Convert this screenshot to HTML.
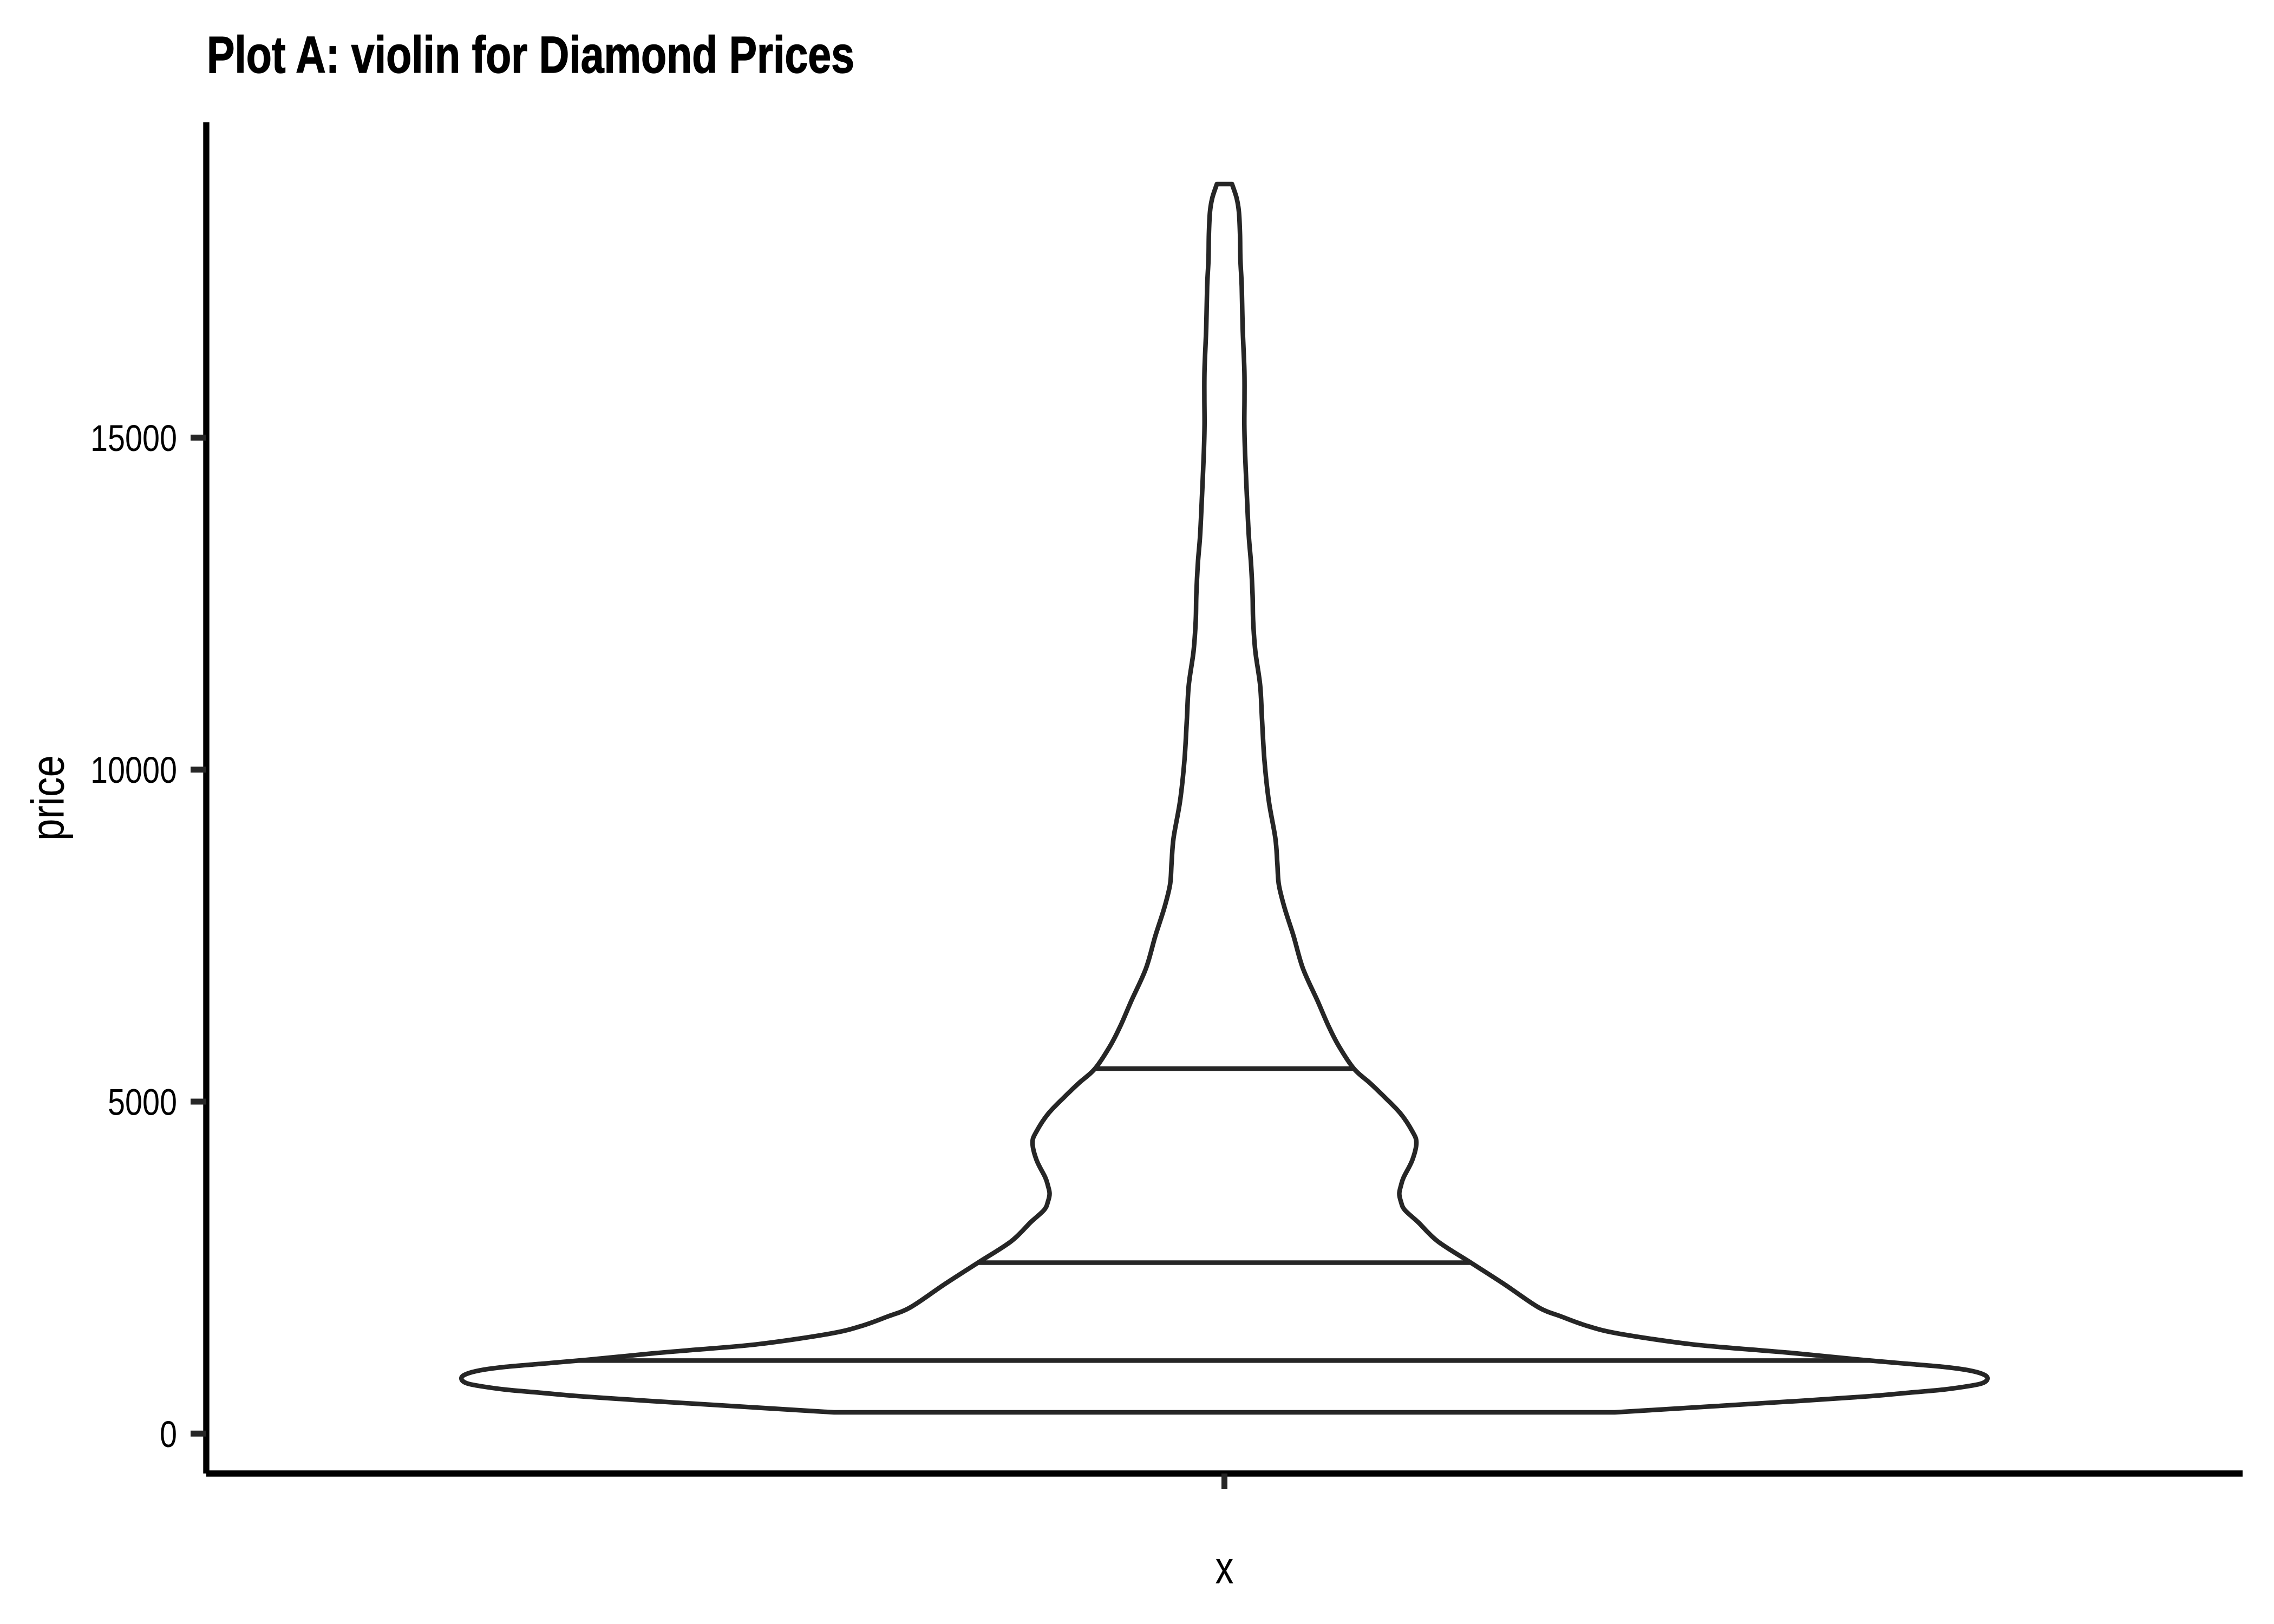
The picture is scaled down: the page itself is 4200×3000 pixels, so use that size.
<!DOCTYPE html>
<html lang="en">
<head>
<meta charset="utf-8">
<title>Plot A: violin for Diamond Prices</title>
<style>
html,body{margin:0;padding:0;background:#fff;width:4200px;height:3000px;overflow:hidden}
svg{display:block;position:absolute;left:0;top:0}
text{font-family:"Liberation Sans Narrow","Liberation Sans",sans-serif;fill:#000}
</style>
</head>
<body>
<svg id="chart" xmlns="http://www.w3.org/2000/svg" width="4200" height="3000" viewBox="0 0 4200 3000">
  <rect x="0" y="0" width="4200" height="3000" fill="#ffffff"></rect>
  <text x="382" y="134" font-size="95.5" font-weight="700" stroke="#000" stroke-width="1.5" textLength="1196" lengthAdjust="spacingAndGlyphs">Plot A: violin for Diamond Prices</text>
  <line x1="381" y1="226" x2="381" y2="2722" stroke="#000" stroke-width="11.4"></line>
  <line x1="381" y1="2722" x2="4142" y2="2722" stroke="#000" stroke-width="11.4"></line>
  <text transform="translate(117.5,1474) rotate(-90)" text-anchor="middle" font-size="85" textLength="158" lengthAdjust="spacingAndGlyphs">price</text>
  <text x="2261.5" y="2925" text-anchor="middle" font-size="85" textLength="34" lengthAdjust="spacingAndGlyphs">x</text>
  <g id="ticks"></g>
  <g id="marks"></g>
</svg>
<script>
const yTickValues = [0, 5000, 10000, 15000];
const yTickLabels = ["0", "5000", "10000", "15000"];
const xCategories = [""];
const quantileValues = [1100, 2575, 5497];
const violinPrices = [18819,18607,18395,18061,17686,17270,16650,16022,15607,15191,14775,14155,13528,13112,12623,12248,11783,11270,10748,10144,9533,8970,8595,8269,7918,7494,7005,6516,6141,5839,5497,5285,5099,4822,4552,4381,4120,3859,3736,3614,3492,3369,3182,2896,2570,2244,1902,1764,1617,1503,1348,1258,1209,1111,1052,1005,948,883,818,760,720,663,614,565,492,320];
const violinDensity = [0.0099,0.0160,0.0190,0.0204,0.0209,0.0227,0.0239,0.0261,0.0263,0.0261,0.0270,0.0293,0.0319,0.0348,0.0369,0.0376,0.0405,0.0468,0.0493,0.0524,0.0581,0.0667,0.0693,0.0713,0.0788,0.0906,0.1029,0.1221,0.1363,0.1498,0.1696,0.1902,0.2072,0.2307,0.2463,0.2516,0.2463,0.2349,0.2314,0.2292,0.2314,0.2363,0.2541,0.2796,0.3236,0.3676,0.4116,0.4414,0.4769,0.5181,0.6104,0.6991,0.7488,0.8355,0.8950,0.9425,0.9780,0.9965,1.0000,0.9936,0.9780,0.9425,0.8950,0.8474,0.7530,0.5117];

const SVG_NS = "http://www.w3.org/2000/svg";
const INK = "#262626";
const xCenter = 2261.5;
const maxHalfWidth = 1409;
function yScale(v) { return 2648.3 - v * 0.12266; }
function xOffset(d) { return d * maxHalfWidth; }

function densityAt(price) {
  for (let i = 0; i < violinPrices.length - 1; i++) {
    const a = violinPrices[i], b = violinPrices[i + 1];
    if (price <= a && price >= b) {
      const t = (a - price) / (a - b);
      return violinDensity[i] + t * (violinDensity[i + 1] - violinDensity[i]);
    }
  }
  return 0;
}

function smoothSegment(pts) {
  let d = "";
  for (let i = 0; i < pts.length - 1; i++) {
    const p0 = pts[Math.max(i - 1, 0)];
    const p1 = pts[i];
    const p2 = pts[i + 1];
    const p3 = pts[Math.min(i + 2, pts.length - 1)];
    const c1x = p1[0] + (p2[0] - p0[0]) / 6;
    const c1y = p1[1] + (p2[1] - p0[1]) / 6;
    const c2x = p2[0] - (p3[0] - p1[0]) / 6;
    const c2y = p2[1] - (p3[1] - p1[1]) / 6;
    d += "C" + c1x.toFixed(2) + " " + c1y.toFixed(2) + " " + c2x.toFixed(2) + " " + c2y.toFixed(2) + " " + p2[0].toFixed(2) + " " + p2[1].toFixed(2);
  }
  return d;
}

function drawTicks() {
  const g = document.getElementById("ticks");
  yTickValues.forEach(function (v, i) {
    const y = yScale(v);
    const tick = document.createElementNS(SVG_NS, "line");
    tick.setAttribute("x1", 352);
    tick.setAttribute("x2", 381);
    tick.setAttribute("y1", y);
    tick.setAttribute("y2", y);
    tick.setAttribute("stroke", INK);
    tick.setAttribute("stroke-width", 11);
    
    
    g.appendChild(tick);
    const label = document.createElementNS(SVG_NS, "text");
    label.textContent = yTickLabels[i];
    label.setAttribute("x", 327);
    label.setAttribute("y", y + 24.5);
    label.setAttribute("text-anchor", "end");
    label.setAttribute("font-size", 69);
    label.setAttribute("textLength", yTickLabels[i].length * 32);
    label.setAttribute("lengthAdjust", "spacingAndGlyphs");
    
    
    g.appendChild(label);
  });
  xCategories.forEach(function () {
    const tick = document.createElementNS(SVG_NS, "line");
    tick.setAttribute("x1", xCenter);
    tick.setAttribute("x2", xCenter);
    tick.setAttribute("y1", 2722);
    tick.setAttribute("y2", 2751);
    tick.setAttribute("stroke", INK);
    tick.setAttribute("stroke-width", 11);
    
    
    g.appendChild(tick);
  });
}

function drawViolin() {
  const g = document.getElementById("marks");
  const left = violinPrices.map(function (p, i) {
    return [xCenter - xOffset(violinDensity[i]), yScale(p)];
  });
  const right = violinPrices.map(function (p, i) {
    return [xCenter + xOffset(violinDensity[i]), yScale(p)];
  }).reverse();
  const d = "M" + left[0][0].toFixed(2) + " " + left[0][1].toFixed(2) +
    smoothSegment(left) +
    "L" + right[0][0].toFixed(2) + " " + right[0][1].toFixed(2) +
    smoothSegment(right) + "Z";
  const outline = document.createElementNS(SVG_NS, "path");
  outline.setAttribute("d", d);
  outline.setAttribute("fill", "#ffffff");
  outline.setAttribute("stroke", INK);
  outline.setAttribute("stroke-width", 8.5);
  outline.setAttribute("stroke-linejoin", "round");
  
  
  g.appendChild(outline);
  quantileValues.forEach(function (q) {
    const hw = xOffset(densityAt(q));
    const line = document.createElementNS(SVG_NS, "line");
    line.setAttribute("x1", xCenter - hw);
    line.setAttribute("x2", xCenter + hw);
    line.setAttribute("y1", yScale(q));
    line.setAttribute("y2", yScale(q));
    line.setAttribute("stroke", INK);
    line.setAttribute("stroke-width", 8.5);
    
    
    g.appendChild(line);
  });
}

drawTicks();
drawViolin();
</script>
</body>
</html>
